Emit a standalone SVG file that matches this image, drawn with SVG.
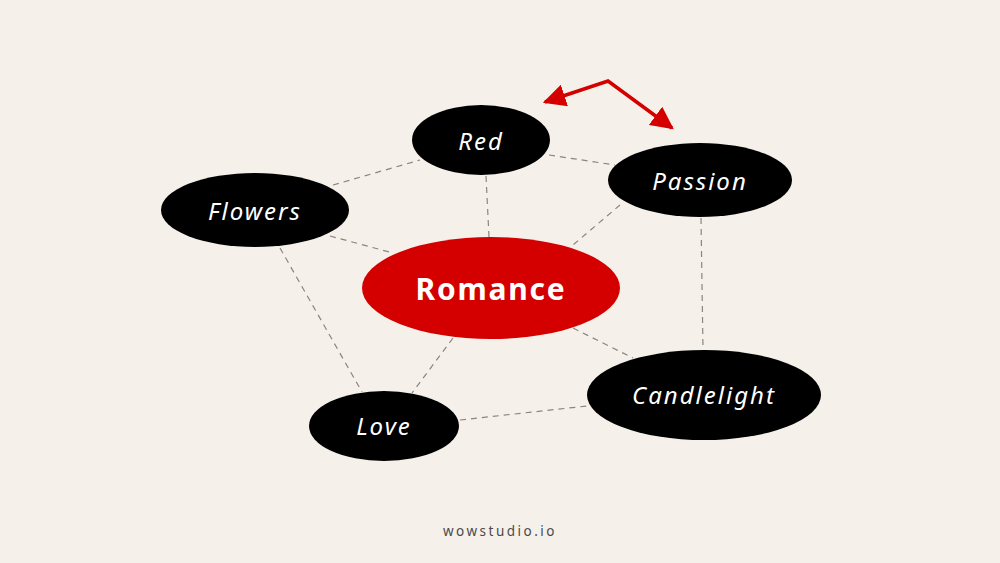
<svg xmlns="http://www.w3.org/2000/svg" width="1000" height="563" viewBox="0 0 1000 563">
<style>
.bg{fill:#f6f0ea}
.node{fill:#000}
.main{fill:#d40000}
.lbl{font-family:"Noto Sans","DejaVu Sans",sans-serif;font-style:italic;font-size:24px;fill:#fff;text-anchor:middle;dominant-baseline:central;letter-spacing:2px}
.mlbl{font-family:"Noto Sans","DejaVu Sans",sans-serif;font-weight:bold;font-size:30px;fill:#fff;text-anchor:middle;dominant-baseline:central;letter-spacing:1.8px}
.conn line{stroke:#8a8580;stroke-width:1.2;stroke-dasharray:6 5;fill:none}
.foot{font-family:"Noto Sans","DejaVu Sans",sans-serif;font-size:13.5px;fill:#4a4a4a;text-anchor:middle;letter-spacing:2.5px}
</style>
<defs>
<marker id="ah" viewBox="0 0 10 10" refX="9" refY="5" markerWidth="6.5" markerHeight="6.5" orient="auto-start-reverse" markerUnits="strokeWidth">
<path d="M0,0 L10,5 L0,10 z" fill="#d40000"/>
</marker>
</defs>
<rect class="bg" x="0" y="0" width="1000" height="563"/>
<g id="connectors" class="conn">
<line x1="333" y1="185" x2="420" y2="160"/>
<line x1="486" y1="176" x2="489" y2="237"/>
<line x1="549" y1="155" x2="615" y2="165"/>
<line x1="330" y1="236" x2="393" y2="253"/>
<line x1="620" y1="205" x2="573" y2="245"/>
<line x1="701" y1="218" x2="703" y2="350"/>
<line x1="280" y1="248" x2="362" y2="392"/>
<line x1="453" y1="338" x2="412" y2="393"/>
<line x1="573" y1="328" x2="633" y2="358"/>
<line x1="460" y1="420" x2="587" y2="406"/>
</g>
<g id="arrow">
<polyline points="545,102 608,81 672,128" fill="none" stroke="#d40000" stroke-width="3.5" marker-start="url(#ah)" marker-end="url(#ah)"/>
</g>
<g id="node-red"><ellipse class="node" cx="481" cy="140" rx="69" ry="35"/><text class="lbl" x="481" y="140">Red</text></g>
<g id="node-flowers"><ellipse class="node" cx="255" cy="210" rx="94" ry="37"/><text class="lbl" x="255" y="210">Flowers</text></g>
<g id="node-passion"><ellipse class="node" cx="700" cy="180" rx="92" ry="37"/><text class="lbl" x="700" y="180">Passion</text></g>
<g id="node-romance"><ellipse class="main" cx="491" cy="288" rx="129" ry="51"/><text class="mlbl" x="491" y="288">Romance</text></g>
<g id="node-love"><ellipse class="node" cx="384" cy="426" rx="75" ry="35"/><text class="lbl" x="384" y="425">Love</text></g>
<g id="node-candlelight"><ellipse class="node" cx="704" cy="395" rx="117" ry="45"/><text class="lbl" x="704" y="394">Candlelight</text></g>
<text class="foot" x="500" y="536">wowstudio.io</text>
</svg>
